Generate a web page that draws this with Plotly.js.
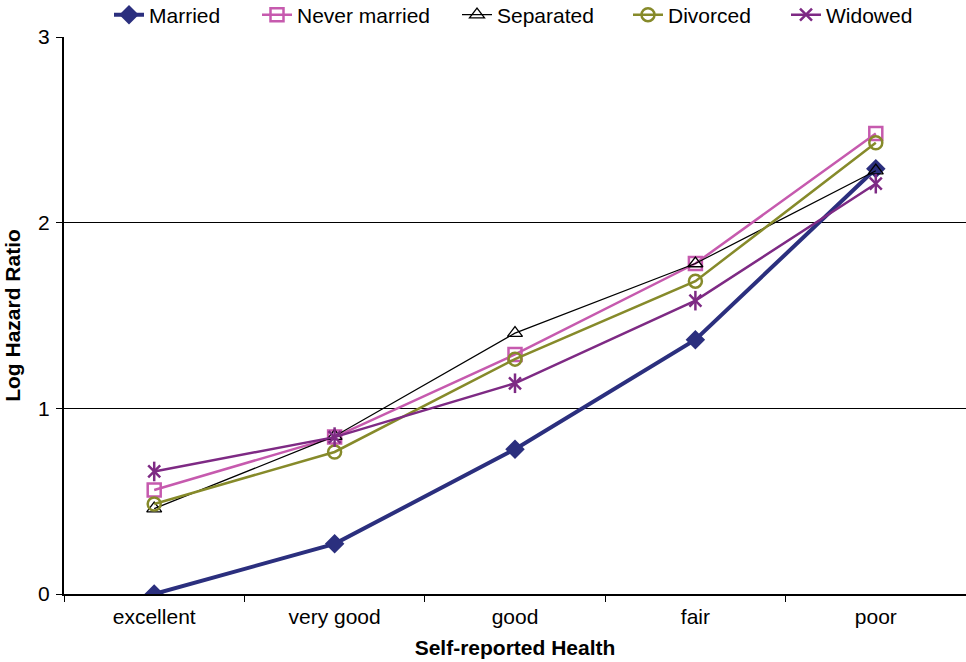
<!DOCTYPE html>
<html>
<head>
<meta charset="utf-8">
<script src="https://cdn.plot.ly/plotly-3.0.1.min.js"></script>
<style>html,body{margin:0;padding:0;background:#fff}#chart{width:966px;height:662px}</style>
</head>
<body>
<div id="chart"></div>
<script>
const categories = ["excellent", "very good", "good", "fair", "poor"];
const married = [0.00, 0.27, 0.78, 1.37, 2.29];
const neverMarried = [0.56, 0.845, 1.29, 1.78, 2.48];
const separated = [0.46, 0.85, 1.405, 1.78, 2.28];
const divorced = [0.485, 0.765, 1.265, 1.685, 2.43];
const widowed = [0.66, 0.845, 1.135, 1.58, 2.21];
const yTicks = [0, 1, 2, 3];

const font = "Liberation Sans, Arial, sans-serif";
const cW = "#7E2A84";

const traces = [
  {name: "Married", y: married, legend: "legend", line: {color: "#2B2F7E", width: 4},
   marker: {symbol: "diamond", size: 15, color: "#2B2F7E"}},
  {name: "Never married", y: neverMarried, legend: "legend2", line: {color: "#C65AAE", width: 2.5},
   marker: {symbol: "square-open", size: 13, color: "#C65AAE", line: {width: 2.5, color: "#C65AAE"}}},
  {name: "Separated", y: separated, legend: "legend3", line: {color: "#000000", width: 1.2},
   marker: {symbol: "triangle-up-open", size: 13, color: "#000000", line: {width: 1.3, color: "#000000"}}},
  {name: "Divorced", y: divorced, legend: "legend4", line: {color: "#868A2A", width: 2.5},
   marker: {symbol: "circle-open", size: 13, color: "#868A2A", line: {width: 2.5, color: "#868A2A"}}},
  {name: "Widowed", y: widowed, legend: "legend5", line: {color: cW, width: 2.5},
   marker: {symbol: "x-thin-open", size: 12, color: cW, line: {width: 2.5, color: cW}}},
  {name: "Widowed", y: widowed, mode: "markers", showlegend: false,
   marker: {symbol: "line-ns-open", size: 14, color: cW, line: {width: 2.5, color: cW}}}
].map(t => Object.assign({x: categories, type: "scatter", mode: "lines+markers"}, t));

function leg(px) {
  return {orientation: "h", xref: "container", yref: "container",
          x: px / 966, xanchor: "left", y: 1 - 15 / 662, yanchor: "middle",
          font: {family: font, size: 21, color: "#000"},
          bgcolor: "rgba(0,0,0,0)"};
}

const layout = {
  width: 966, height: 662,
  margin: {l: 64, r: 0, t: 37, b: 68},
  paper_bgcolor: "#fff", plot_bgcolor: "#fff",
  font: {family: font, size: 21, color: "#000"},
  showlegend: true,
  legend: leg(109), legend2: leg(257), legend3: leg(457), legend4: leg(628), legend5: leg(786),
  xaxis: {type: "category", range: [-0.5, 4.5], tickson: "boundaries", ticks: "outside",
          ticklen: 6, tickcolor: "#000", showline: true, linecolor: "#000", linewidth: 2,
          showgrid: false, zeroline: false, tickfont: {family: font, size: 21},
          ticklabelstandoff: 3,
          title: {text: "<b>Self-reported Health</b>", font: {family: font, size: 21}, standoff: 13}},
  yaxis: {range: [0, 3], tickvals: yTicks, ticks: "outside", ticklen: 6, tickcolor: "#000",
          showline: true, linecolor: "#000", linewidth: 2, showgrid: true, gridcolor: "#000",
          gridwidth: 1, zeroline: false, tickfont: {family: font, size: 21},
          ticklabelstandoff: 2,
          title: {text: "<b>Log Hazard Ratio</b>", font: {family: font, size: 21}, standoff: 12}}
};

Plotly.newPlot("chart", traces, layout, {displayModeBar: false, staticPlot: true});
</script>
</body>
</html>
